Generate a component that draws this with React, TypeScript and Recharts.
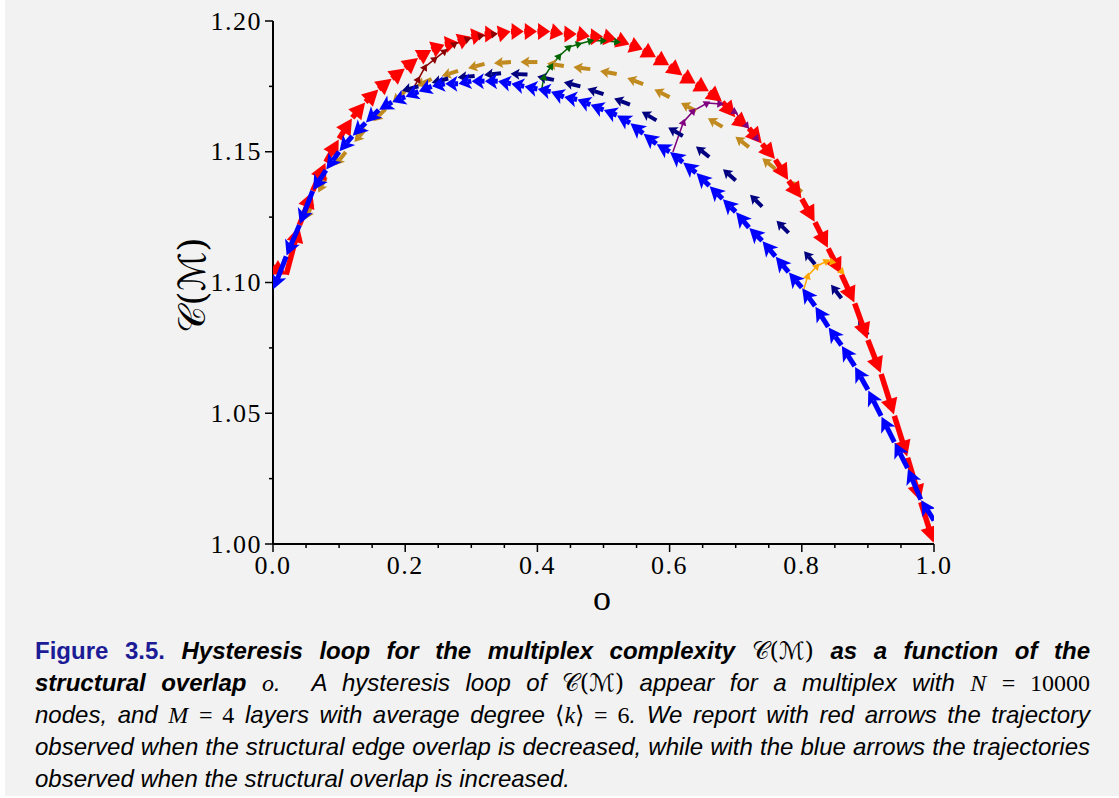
import React from "react";
import { ComposedChart, Line, XAxis, YAxis } from "recharts";

// structural overlap grid used by the two main trajectories
const overlapGrid = [
  0, 0.02, 0.04, 0.06, 0.08, 0.1, 0.12, 0.14, 0.16, 0.18, 0.2, 0.22, 0.24, 0.26,
  0.28, 0.3, 0.32, 0.34, 0.36, 0.38, 0.4, 0.42, 0.44, 0.46, 0.48, 0.5, 0.52, 0.54,
  0.56, 0.58, 0.6, 0.62, 0.64, 0.66, 0.68, 0.7, 0.72, 0.74, 0.76, 0.78, 0.8, 0.82,
  0.84, 0.86, 0.88, 0.9, 0.92, 0.94, 0.96, 0.98, 1,
];

// red trajectory, o = 0 -> 1
const redComplexity = [
  1.106, 1.103, 1.122, 1.135, 1.146, 1.155, 1.163, 1.169, 1.174, 1.178, 1.182,
  1.186, 1.189, 1.191, 1.192, 1.194, 1.195, 1.195, 1.196, 1.196, 1.196, 1.196,
  1.195, 1.195, 1.194, 1.194, 1.193, 1.191, 1.189, 1.186, 1.183, 1.179, 1.176,
  1.173, 1.169, 1.163, 1.159, 1.153, 1.147, 1.139, 1.132, 1.123, 1.113, 1.103,
  1.092, 1.078, 1.065, 1.049, 1.033, 1.016, 1.0,
];

// blue trajectory, o = 1 -> 0
const blueOverlap = [...overlapGrid].reverse();
const blueComplexity = [
  1.009, 1.017, 1.029, 1.039, 1.049, 1.059, 1.068, 1.076, 1.083, 1.091, 1.098,
  1.104, 1.11, 1.116, 1.121, 1.127, 1.132, 1.137, 1.142, 1.146, 1.15, 1.153,
  1.157, 1.161, 1.164, 1.166, 1.168, 1.17, 1.171, 1.173, 1.174, 1.175, 1.176,
  1.177, 1.177, 1.177, 1.176, 1.176, 1.175, 1.173, 1.171, 1.169, 1.166, 1.161,
  1.156, 1.15, 1.143, 1.135, 1.122, 1.11, 1.097,
];

const navyOverlap = [0.9, 0.86, 0.82, 0.78, 0.74, 0.7, 0.66, 0.62, 0.58, 0.54, 0.5, 0.465, 0.425, 0.385, 0.345, 0.305, 0.265, 0.22];
const navyComplexity = [1.08, 1.094, 1.107, 1.119, 1.129, 1.139, 1.148, 1.156, 1.162, 1.168, 1.172, 1.175, 1.1775, 1.1795, 1.18, 1.179, 1.178, 1.175];

const goldOverlap = [0.8, 0.76, 0.72, 0.68, 0.64, 0.6, 0.56, 0.52, 0.48, 0.44, 0.4, 0.36, 0.32, 0.28, 0.24, 0.2, 0.17, 0.14, 0.11, 0.08, 0.06];
const goldComplexity = [1.1346, 1.1434, 1.1518, 1.1595, 1.1656, 1.1709, 1.1759, 1.1797, 1.1816, 1.1828, 1.1843, 1.1843, 1.1836, 1.1809, 1.1778, 1.1732, 1.1663, 1.1587, 1.1499, 1.1403, 1.13];

const maroonOverlap = [0.206, 0.22, 0.23, 0.245, 0.26, 0.275, 0.295, 0.315, 0.335];
const maroonComplexity = [1.1713, 1.1778, 1.1824, 1.1855, 1.1885, 1.1912, 1.1931, 1.1943, 1.195];

const greenOverlap = [0.406, 0.41, 0.421, 0.433, 0.448, 0.463, 0.481, 0.5, 0.521];
const greenComplexity = [1.1733, 1.1786, 1.1828, 1.1866, 1.19, 1.1912, 1.1924, 1.1924, 1.192];

const purpleOverlap = [0.605, 0.621, 0.636, 0.657, 0.677, 0.699, 0.717, 0.732];
const purpleComplexity = [1.1499, 1.1614, 1.1656, 1.1686, 1.1683, 1.1652, 1.1598, 1.1549];

const orangeOverlap = [0.802, 0.809, 0.823, 0.838, 0.847, 0.861];
const orangeComplexity = [1.0964, 1.1025, 1.1063, 1.1082, 1.1078, 1.104];

const xTicks = [0, 0.05, 0.1, 0.15, 0.2, 0.25, 0.3, 0.35, 0.4, 0.45, 0.5, 0.55, 0.6, 0.65, 0.7, 0.75, 0.8, 0.85, 0.9, 0.95, 1];
const yTicks = [1, 1.025, 1.05, 1.075, 1.1, 1.125, 1.15, 1.175, 1.2];

const zip = (xs: number[], ys: number[]) => xs.map((o, i) => ({ o, c: ys[i] }));

type Pt = { x: number; y: number };
type ArrowStyle = {
  kind: "quiver" | "short" | "tick";
  color: string;
  head: number;
  half: number;
  shaft: number;
  length?: number;
  notch?: number;
};

const redStyle: ArrowStyle = { kind: "quiver", color: "#ff0000", head: 16, half: 8.5, shaft: 5.5 };
const blueStyle: ArrowStyle = { kind: "quiver", color: "#0000ff", head: 15, half: 8, shaft: 5, notch: 0.25 };
const navyStyle: ArrowStyle = { kind: "short", color: "#000080", head: 9, half: 5.5, shaft: 4, length: 17, notch: 0.2 };
const goldStyle: ArrowStyle = { kind: "short", color: "#c08a1e", head: 9, half: 5.5, shaft: 4, length: 17, notch: 0.2 };

function drawArrow(p: Pt, u: Pt, dist: number, st: ArrowStyle) {
  const tip = { x: p.x + u.x * dist, y: p.y + u.y * dist };
  const h = Math.min(st.head, dist * 0.95);
  const bx = tip.x - u.x * h;
  const by = tip.y - u.y * h;
  const nx = -u.y;
  const ny = u.x;
  const notch = st.notch ?? 0;
  const pts: Pt[] = [tip, { x: bx + nx * st.half, y: by + ny * st.half }];
  if (notch > 0) pts.push({ x: bx + u.x * h * notch, y: by + u.y * h * notch });
  pts.push({ x: bx - nx * st.half, y: by - ny * st.half });
  const shaftLen = dist - h;
  return (
    <>
      {st.shaft > 0 && shaftLen > 0.5 && (
        <line
          x1={p.x}
          y1={p.y}
          x2={bx + u.x * h * Math.max(notch, 0.1)}
          y2={by + u.y * h * Math.max(notch, 0.1)}
          stroke={st.color}
          strokeWidth={st.shaft}
        />
      )}
      <polygon points={pts.map((q) => `${q.x},${q.y}`).join(" ")} fill={st.color} />
    </>
  );
}

function unit(a: Pt, b: Pt) {
  const dx = b.x - a.x;
  const dy = b.y - a.y;
  const len = Math.hypot(dx, dy) || 1;
  return { u: { x: dx / len, y: dy / len }, len };
}

function arrowDot(st: ArrowStyle, id: string) {
  return (props: any) => {
    const { index, points } = props;
    const key = `${id}-${index}`;
    if (!points || !points[index]) return <g key={key} />;
    const p: Pt = points[index];
    if (st.kind === "quiver") {
      if (index >= points.length - 1) return <g key={key} />;
      const { u, len } = unit(p, points[index + 1]);
      return <g key={key}>{drawArrow(p, u, len * 0.97, st)}</g>;
    }
    if (st.kind === "short") {
      const { u } =
        index < points.length - 1 ? unit(p, points[index + 1]) : unit(points[index - 1], p);
      return <g key={key}>{drawArrow(p, u, st.length ?? 16, st)}</g>;
    }
    if (index === 0) return <g key={key} />;
    const { u } = unit(points[index - 1], p);
    const start = { x: p.x - u.x * 3.5, y: p.y - u.y * 3.5 };
    return <g key={key}>{drawArrow(start, u, 7, st)}</g>;
  };
}

function thinStyle(color: string): ArrowStyle {
  return { kind: "tick", color, head: 7, half: 4, shaft: 0 };
}

const serif = "'Liberation Serif', 'Times New Roman', serif";
const mathFont = "'DejaVu Serif', 'DejaVu Sans', serif";

function XTick({ x, y, payload }: any) {
  const v = payload.value as number;
  const major = Math.abs(v * 5 - Math.round(v * 5)) < 1e-6;
  return (
    <g>
      <line x1={x} x2={x} y1={y} y2={y + (major ? 8 : 4)} stroke="#000" strokeWidth={1.5} />
      {major && (
        <text x={x} y={y + 30} textAnchor="middle" fontFamily={serif} fontSize={26} letterSpacing={1.5} fill="#000">
          {v.toFixed(1)}
        </text>
      )}
    </g>
  );
}

function YTick({ x, y, payload }: any) {
  const v = payload.value as number;
  const major = Math.abs((v - 1) * 20 - Math.round((v - 1) * 20)) < 1e-6;
  return (
    <g>
      <line x1={x - (major ? 8 : 4)} x2={x} y1={y} y2={y} stroke="#000" strokeWidth={1.5} />
      {major && (
        <text x={x - 11} y={y + 8.5} textAnchor="end" fontFamily={serif} fontSize={26} letterSpacing={1.5} fill="#000">
          {v.toFixed(2)}
        </text>
      )}
    </g>
  );
}

const bi: React.CSSProperties = { fontWeight: 700, fontStyle: "italic" };
const it: React.CSSProperties = { fontStyle: "italic" };
const mi: React.CSSProperties = { fontFamily: serif, fontStyle: "italic" };
const mn: React.CSSProperties = { fontFamily: serif };
const cm: React.CSSProperties = { fontFamily: mathFont, fontStyle: "normal", fontWeight: 400 };

const justified: React.CSSProperties = { textAlign: "justify", textAlignLast: "justify", whiteSpace: "nowrap" };

export default function App() {
  return (
    <div style={{ position: "absolute", left: 0, top: 0, width: 1119, height: 798, background: "#ffffff" }}>
      <div style={{ position: "absolute", left: 5, top: 0, width: 1114, height: 796, background: "#f2f2f2" }} />
      <div style={{ position: "absolute", left: 0, top: 0 }}>
        <ComposedChart width={1000} height={620} margin={{ top: 21, right: 66, bottom: 0, left: 0 }}>
          <XAxis
            dataKey="o"
            type="number"
            domain={[0, 1]}
            ticks={xTicks}
            interval={0}
            height={76}
            tickSize={0}
            tickMargin={0}
            tickLine={false}
            tick={<XTick />}
            axisLine={{ stroke: "#000", strokeWidth: 2 }}
            allowDataOverflow
          />
          <YAxis
            dataKey="c"
            type="number"
            domain={[1, 1.2]}
            ticks={yTicks}
            interval={0}
            width={273}
            tickSize={0}
            tickMargin={0}
            tickLine={false}
            tick={<YTick />}
            axisLine={{ stroke: "#000", strokeWidth: 2 }}
            allowDataOverflow
          />
          <Line data={zip(goldOverlap, goldComplexity)} dataKey="c" stroke="none" dot={arrowDot(goldStyle, "gold")} activeDot={false} isAnimationActive={false} />
          <Line data={zip(navyOverlap, navyComplexity)} dataKey="c" stroke="none" dot={arrowDot(navyStyle, "navy")} activeDot={false} isAnimationActive={false} />
          <Line data={zip(overlapGrid, redComplexity)} dataKey="c" stroke="none" dot={arrowDot(redStyle, "red")} activeDot={false} isAnimationActive={false} />
          <Line data={zip(blueOverlap, blueComplexity)} dataKey="c" stroke="none" dot={arrowDot(blueStyle, "blue")} activeDot={false} isAnimationActive={false} />
          <Line data={zip(maroonOverlap, maroonComplexity)} dataKey="c" stroke="#8b0000" strokeWidth={1.5} dot={arrowDot(thinStyle("#8b0000"), "maroon")} activeDot={false} isAnimationActive={false} />
          <Line data={zip(greenOverlap, greenComplexity)} dataKey="c" stroke="#006400" strokeWidth={1.5} dot={arrowDot(thinStyle("#006400"), "green")} activeDot={false} isAnimationActive={false} />
          <Line data={zip(purpleOverlap, purpleComplexity)} dataKey="c" stroke="#800080" strokeWidth={1.5} dot={arrowDot(thinStyle("#800080"), "purple")} activeDot={false} isAnimationActive={false} />
          <Line data={zip(orangeOverlap, orangeComplexity)} dataKey="c" stroke="#ffa500" strokeWidth={1.5} dot={arrowDot(thinStyle("#ffa500"), "orange")} activeDot={false} isAnimationActive={false} />
        </ComposedChart>
      </div>
      <div style={{ position: "absolute", left: 582, top: 578, width: 40, textAlign: "center", fontFamily: serif, fontSize: 36, lineHeight: "40px" }}>o</div>
      <div
        style={{
          position: "absolute",
          left: 192,
          top: 285,
          transform: "translate(-50%, -50%) rotate(-90deg)",
          fontFamily: mathFont,
          fontSize: 37,
          whiteSpace: "nowrap",
        }}
      >
        𝒞(ℳ)
      </div>
      <div
        style={{
          position: "absolute",
          left: 35,
          top: 635,
          width: 1055,
          fontFamily: "'Liberation Sans', Arial, sans-serif",
          fontSize: 24,
          lineHeight: "32px",
          color: "#000",
        }}
      >
        <div style={justified}>
          <span style={{ fontWeight: 700, color: "#1c1c96" }}>Figure 3.5.</span>{" "}
          <span style={bi}>Hysteresis loop for the multiplex complexity</span> <span style={cm}>𝒞(ℳ)</span>{" "}
          <span style={bi}>as a function of the</span>
        </div>
        <div style={justified}>
          <span style={bi}>structural overlap</span> <span style={mi}>o</span>
          <span style={it}>. &nbsp;A hysteresis loop of</span> <span style={cm}>𝒞(ℳ)</span>{" "}
          <span style={it}>appear for a multiplex with</span> <span style={mi}>N</span> <span style={mn}>= 10000</span>
        </div>
        <div style={justified}>
          <span style={it}>nodes, and</span> <span style={mi}>M</span> <span style={mn}>= 4</span>{" "}
          <span style={it}>layers with average degree</span> <span style={mn}>⟨</span>
          <span style={mi}>k</span>
          <span style={mn}>⟩ = 6</span>
          <span style={it}>. We report with red arrows the trajectory</span>
        </div>
        <div style={justified}>
          <span style={it}>observed when the structural edge overlap is decreased, while with the blue arrows the trajectories</span>
        </div>
        <div>
          <span style={it}>observed when the structural overlap is increased.</span>
        </div>
      </div>
    </div>
  );
}
